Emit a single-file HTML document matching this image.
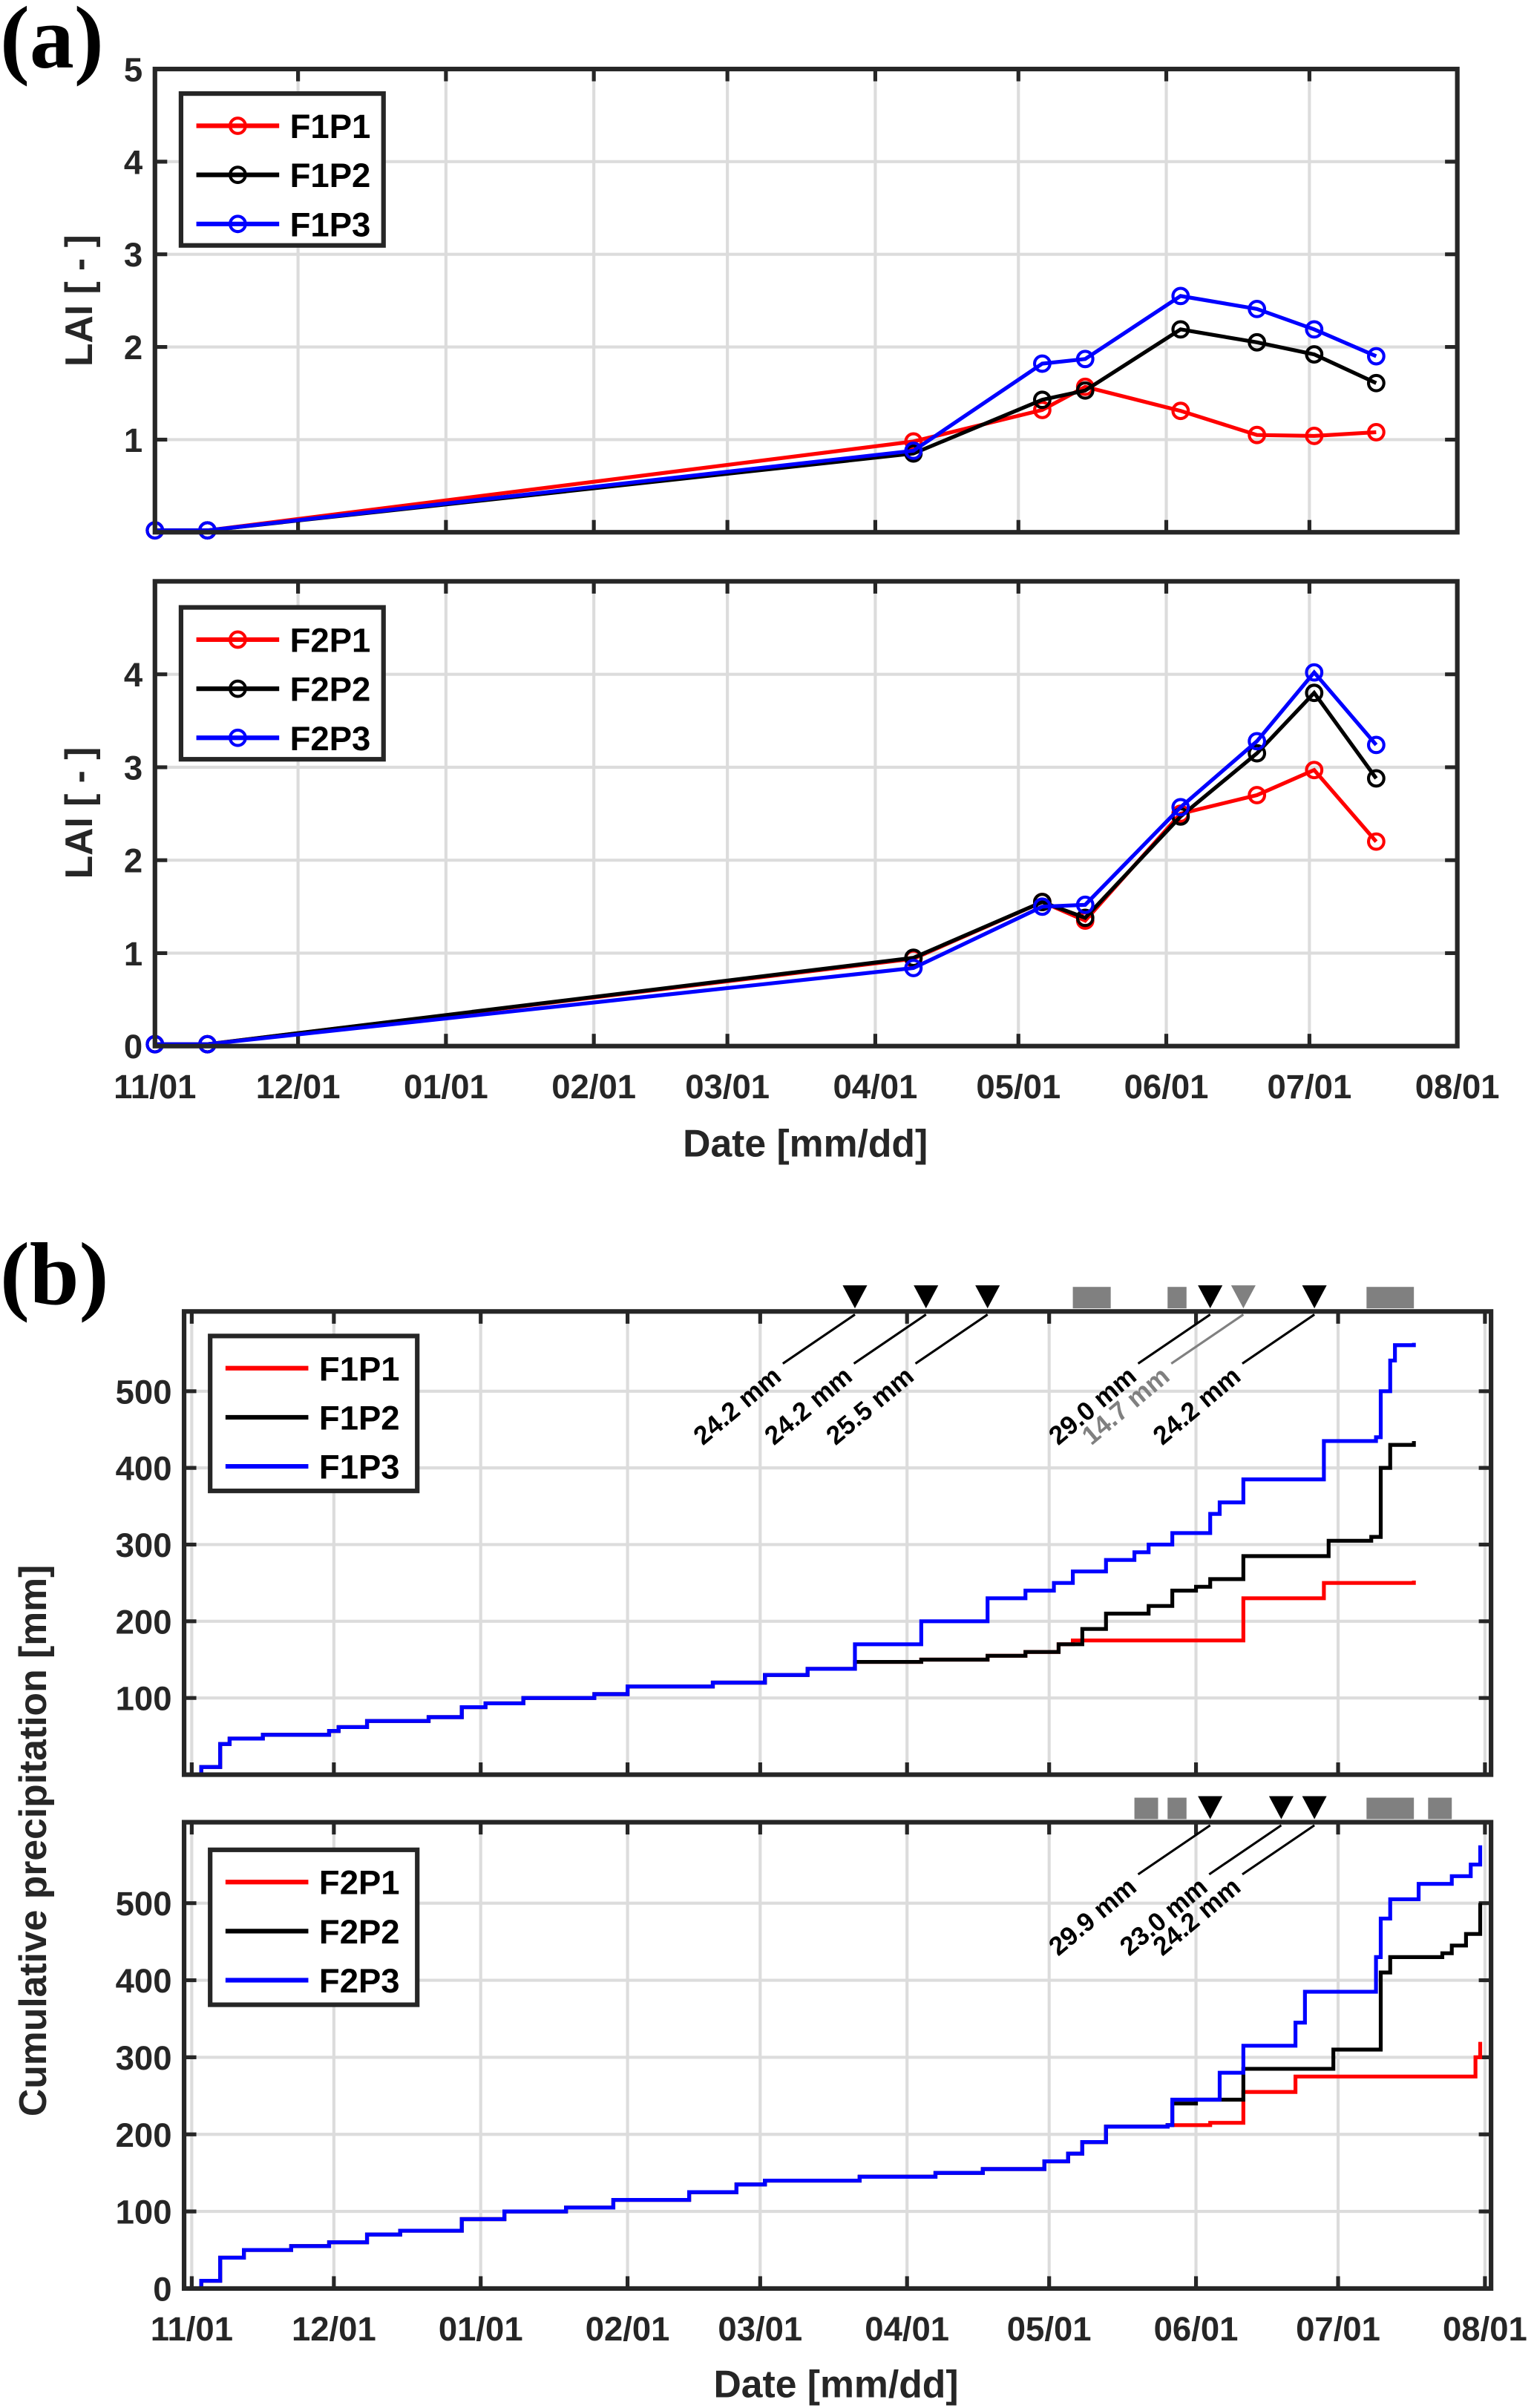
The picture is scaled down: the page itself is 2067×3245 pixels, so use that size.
<!DOCTYPE html>
<html><head><meta charset="utf-8"><style>
html,body{margin:0;padding:0;background:#fff}
svg{display:block}
text{font-family:"Liberation Sans",sans-serif;font-weight:bold}
</style></head><body>
<svg id="fig" xmlns="http://www.w3.org/2000/svg" width="2067" height="3245" viewBox="0 0 1000 1569.9">
<text x="0" y="44" style="font-family:'Liberation Serif',serif" font-size="58">(a)</text>
<text x="0" y="850" style="font-family:'Liberation Serif',serif" font-size="58">(b)</text>
</svg>
<script>
// ---------- data ----------
const monthLabels=["11/01","12/01","01/01","02/01","03/01","04/01","05/01","06/01","07/01","08/01"];
const monthDays=[0,30,61,92,120,151,181,212,242,273];
const laiDays=[0,11,159,186,195,215,231,243,256];
const F1P1=[0.02,0.02,0.98,1.32,1.57,1.31,1.05,1.04,1.08];
const F1P2=[0.02,0.02,0.85,1.43,1.53,2.19,2.05,1.92,1.61];
const F1P3=[0.02,0.02,0.88,1.82,1.87,2.55,2.41,2.19,1.90];
const F2P1=[0.02,0.02,0.94,1.55,1.35,2.50,2.70,2.97,2.20];
const F2P2=[0.02,0.02,0.95,1.55,1.38,2.47,3.15,3.80,2.88];
const F2P3=[0.02,0.02,0.84,1.50,1.52,2.57,3.28,4.02,3.24];
// cumulative precipitation step breakpoints: days and values
const pA_days=[0,2,6,8,15,29,31,37,50,57,62,70,85,92,110,121,130,140];
const pA_vals=[0,10,40,47,52,57,62,70,75,88,93,100,105,115,120,130,138,140];
const P13_days=[140,154,168,176,182,186,193,199,202,207,215,217,222,239,250,251,253,254,258];
const P13_vals=[170,200,230,240,250,265,280,290,300,315,340,355,385,435,440,500,540,560,563];
const P12_days=[140,154,168,176,183,188,193,202,207,212,215,222,240,249,251,253,258];
const P12_vals=[147,150,155,160,170,190,210,220,240,245,255,285,305,310,400,430,435];
const P11_days=[183,186,222,239,258];
const P11_vals=[170,175,230,250,253];
const pB_days=[0,2,6,11,21,29,37,44,57,66,79,89,105,115,121,141,157,167,180,185,188,193,206];
const pB_vals=[0,10,40,50,55,60,70,75,90,100,105,115,125,135,140,145,150,155,165,175,190,210,212];
const P23_days=[206,207,217,222,233,235,250,251,253,259,266,270,272];
const P23_vals=[212,245,280,315,345,385,430,480,505,525,535,550,575];
const P22_days=[206,207,212,222,241,251,253,264,266,269,272];
const P22_vals=[212,240,245,285,310,410,430,435,445,460,500];
const P21_days=[206,215,222,233,271,272];
const P21_vals=[212,215,255,275,300,320];
const evA_days=[140,155,168,215,222,237];
const evA_labels=["24.2 mm","24.2 mm","25.5 mm","29.0 mm","14.7 mm","24.2 mm"];
const evA_gray=[0,0,0,0,1,0];
const barsA=[[186,194],[206,210],[248,258]];
const evB_days=[215,230,237];
const evB_labels=["29.9 mm","23.0 mm","24.2 mm"];
const barsB=[[199,204],[206,210],[248,258],[261,266]];

const NS="http://www.w3.org/2000/svg";
const svg=document.getElementById('fig');
function mk(tag,attrs,parent){const e=document.createElementNS(NS,tag);for(const k in attrs)e.setAttribute(k,attrs[k]);(parent||svg).appendChild(e);return e;}
const GRID="#dcdcdc",AX="#262626";

function panel(name,x0,x1,y0,y1,ymax,yticks,d2x,xlabels,ylabel,ylx,yly){
  const g=mk('g',{});
  
  
  const X=d=>d2x(d), Y=v=>y1-(v/ymax)*(y1-y0);
  monthDays.forEach((d,i)=>{const x=X(d);
    const l=mk('line',{x1:x,x2:x,y1:y0,y2:y1,stroke:GRID,'stroke-width':2},g);
    
    mk('line',{x1:x,x2:x,y1:y0,y2:y0+8,stroke:AX,'stroke-width':2.5},g);
    mk('line',{x1:x,x2:x,y1:y1,y2:y1-8,stroke:AX,'stroke-width':2.5},g);
    if(xlabels){const t=mk('text',{x:x,y:y1+34,'text-anchor':'middle','font-size':22,fill:AX},g);t.textContent=monthLabels[i];
      }
  });
  yticks.forEach(v=>{const y=Y(v);
    const l=mk('line',{x1:x0,x2:x1,y1:y,y2:y,stroke:GRID,'stroke-width':2},g);
    
    mk('line',{x1:x0,x2:x0+8,y1:y,y2:y,stroke:AX,'stroke-width':2.5},g);
    mk('line',{x1:x1,x2:x1-8,y1:y,y2:y,stroke:AX,'stroke-width':2.5},g);
    const t=mk('text',{x:x0-8,y:y+8,'text-anchor':'end','font-size':22,fill:AX},g);t.textContent=String(v);
    
  });
  if(ylabel){const t=mk('text',{x:ylx,y:yly,'text-anchor':'middle','font-size':25,fill:AX,transform:`rotate(-90 ${ylx} ${yly})`});t.textContent=ylabel;
    }
  return {g,X,Y,box:()=>{const r=mk('rect',{x:x0,y:y0,width:x1-x0,height:y1-y0,fill:'none',stroke:AX,'stroke-width':3},g);}};
}
function legend(x,y,w,h,names,colors,markers,name){
  const g=mk('g',{});
  
  
  mk('rect',{x:x,y:y,width:w,height:h,fill:'#fff',stroke:AX,'stroke-width':3},g);
  names.forEach((n,i)=>{const yy=y+21+i*32;
    mk('line',{x1:x+10,x2:x+64,y1:yy,y2:yy,stroke:colors[i],'stroke-width':3},g);
    if(markers)mk('circle',{cx:x+37,cy:yy,r:5,fill:'none',stroke:colors[i],'stroke-width':2},g);
    const t=mk('text',{x:x+71,y:yy+8,'font-size':22,fill:'#000'},g);t.textContent=n;
    });
}
function laiSeries(p,vals,color,name){
  const pts=laiDays.map((d,i)=>p.X(d)+','+p.Y(vals[i])).join(' ');
  const l=mk('polyline',{points:pts,fill:'none',stroke:color,'stroke-width':2.5},p.g);
  
  laiDays.forEach((d,i)=>{const c=mk('circle',{cx:p.X(d),cy:p.Y(vals[i]),r:5,fill:'none',stroke:color,'stroke-width':2},p.g);
    });
}
function stepSeries(p,days,vals,color,name){
  let d='M'+p.X(days[0])+','+p.Y(vals[0]);
  for(let i=1;i<days.length;i++){d+=' H'+p.X(days[i])+' V'+p.Y(vals[i]);}
  const e=mk('path',{d:d,fill:'none',stroke:color,'stroke-width':2.5},p.g);
  
}
const colors=['#ff0000','#000000','#0000ff'];

const xa=d=>101+d*849/273;
const a1=panel('lai-f1-panel',101,950,45,347,5,[1,2,3,4,5],xa,false,'LAI [ - ]',60,196);
laiSeries(a1,F1P1,colors[0],'f1p1');laiSeries(a1,F1P2,colors[1],'f1p2');laiSeries(a1,F1P3,colors[2],'f1p3');
a1.box();
legend(118,61,132,99,['F1P1','F1P2','F1P3'],colors,true,'legend-f1');
const a2=panel('lai-f2-panel',101,950,379,682,5,[0,1,2,3,4],xa,true,'LAI [ - ]',60,530);
laiSeries(a2,F2P1,colors[0],'f2p1');laiSeries(a2,F2P2,colors[1],'f2p2');laiSeries(a2,F2P3,colors[2],'f2p3');
a2.box();
legend(118,396,132,99,['F2P1','F2P2','F2P3'],colors,true,'legend-f2');
{const t=mk('text',{x:525,y:754,'text-anchor':'middle','font-size':25,fill:AX});t.textContent='Date [mm/dd]';}

const xb=d=>125+d*3.088;
function full(cd,cv,ad,av){return [cd.concat(ad),cv.concat(av)];}
const b1=panel('precip-f1-panel',120,972,855,1157,604,[100,200,300,400,500],xb,false,null);
const n12=P12_days.filter(d=>d<183).length;
let s=full(pA_days.concat(P12_days.slice(0,n12)),pA_vals.concat(P12_vals.slice(0,n12)),P11_days,P11_vals);
stepSeries(b1,s[0],s[1],colors[0],'f1p1-precip');
s=full(pA_days,pA_vals,P12_days,P12_vals);stepSeries(b1,s[0],s[1],colors[1],'f1p2-precip');
s=full(pA_days,pA_vals,P13_days,P13_vals);stepSeries(b1,s[0],s[1],colors[2],'f1p3-precip');
b1.box();
legend(137,871,135,101,['F1P1','F1P2','F1P3'],colors,false,'legend-precip-f1');

const b2=panel('precip-f2-panel',120,972,1188,1492,605,[0,100,200,300,400,500],xb,true,null);
s=full(pB_days,pB_vals,P21_days,P21_vals);stepSeries(b2,s[0],s[1],colors[0],'f2p1-precip');
s=full(pB_days,pB_vals,P22_days,P22_vals);stepSeries(b2,s[0],s[1],colors[1],'f2p2-precip');
s=full(pB_days,pB_vals,P23_days,P23_vals);stepSeries(b2,s[0],s[1],colors[2],'f2p3-precip');
b2.box();
legend(137,1206,135,101,['F2P1','F2P2','F2P3'],colors,false,'legend-precip-f2');

{const t=mk('text',{x:30,y:1200,'text-anchor':'middle','font-size':25,fill:AX,transform:'rotate(-90 30 1200)'});t.textContent='Cumulative precipitation [mm]';}
{const t=mk('text',{x:545,y:1563,'text-anchor':'middle','font-size':25,fill:AX});t.textContent='Date [mm/dd]';}

function events(days,labels,gray,bars,yBase){
  bars.forEach(b=>{const r=mk('rect',{x:xb(b[0]),y:yBase-15,width:xb(b[1])-xb(b[0]),height:14,fill:'#808080'});
    });
  days.forEach((d,i)=>{const x=xb(d),c=gray[i]?'#808080':'#000';
    const p=mk('polygon',{points:`${x-8},${yBase-16} ${x+8},${yBase-16} ${x},${yBase-1}`,fill:c});
    
    mk('line',{x1:x,y1:yBase+3,x2:x-47,y2:yBase+35,stroke:c,'stroke-width':1.5});
    const tx=x-47,ty=yBase+45;
    const t=mk('text',{x:tx,y:ty,'text-anchor':'end','font-size':17,fill:c,transform:`rotate(-40 ${tx} ${ty})`});
    t.textContent=labels[i];});
}
events(evA_days,evA_labels,evA_gray,barsA,854);
events(evB_days,evB_labels,[0,0,0],barsB,1187);
</script>
</body></html>
